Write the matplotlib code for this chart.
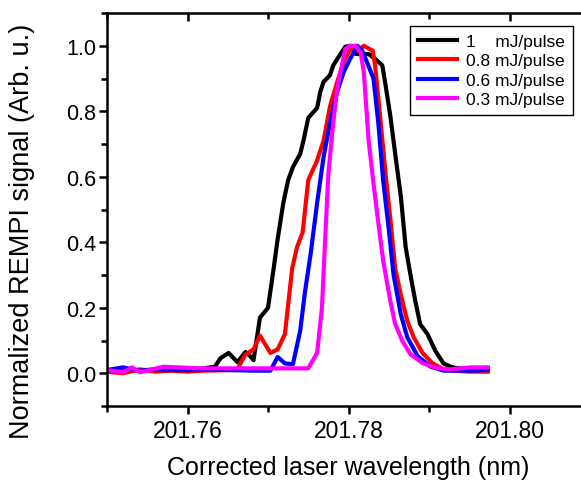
import matplotlib
matplotlib.use("Agg")
import matplotlib.pyplot as plt
from matplotlib.ticker import MultipleLocator, FormatStrFormatter

plt.rcParams['font.family'] = ['Liberation Sans', 'DejaVu Sans']

# wavelength (nm) and normalized signal
wl_1mj = [201.7500, 201.7520, 201.7540, 201.7560, 201.7580, 201.7600, 201.7620, 201.7634,
          201.7641, 201.7651, 201.7662, 201.7672, 201.7677, 201.7682, 201.7690, 201.7700,
          201.7707, 201.7712, 201.7719, 201.7725, 201.7731, 201.7740, 201.7744, 201.7750,
          201.7761, 201.7765, 201.7769, 201.7777, 201.7781, 201.7790, 201.7796, 201.7802,
          201.7809, 201.7817, 201.7825, 201.7833, 201.7842, 201.7846, 201.7852, 201.7858,
          201.7865, 201.7871, 201.7877, 201.7883, 201.7889, 201.7898, 201.7908, 201.7918,
          201.7927, 201.7935, 201.7950, 201.7973]
sig_1mj = [0.010, 0.005, 0.010, 0.010, 0.010, 0.010, 0.015, 0.020,
           0.046, 0.062, 0.034, 0.065, 0.055, 0.040, 0.170, 0.200,
           0.320, 0.410, 0.520, 0.590, 0.630, 0.670, 0.710, 0.780,
           0.810, 0.860, 0.890, 0.910, 0.940, 0.975, 0.997, 1.000,
           0.975, 0.975, 0.975, 0.960, 0.940, 0.880, 0.785, 0.670,
           0.540, 0.385, 0.300, 0.220, 0.150, 0.120, 0.068, 0.030,
           0.020, 0.015, 0.015, 0.015]

wl_08mj = [201.7500, 201.7520, 201.7540, 201.7560, 201.7580, 201.7600, 201.7620, 201.7662,
           201.7665, 201.7672, 201.7682, 201.7690, 201.7703, 201.7712, 201.7721, 201.7730,
           201.7736, 201.7743, 201.7750, 201.7761, 201.7769, 201.7777, 201.7786, 201.7794,
           201.7802, 201.7812, 201.7819, 201.7830, 201.7833, 201.7840, 201.7846, 201.7852,
           201.7858, 201.7865, 201.7873, 201.7881, 201.7892, 201.7904, 201.7918, 201.7930,
           201.7950, 201.7973]
sig_08mj = [0.005, 0.000, 0.012, 0.005, 0.008, 0.005, 0.008, 0.010,
            0.027, 0.057, 0.073, 0.115, 0.062, 0.073, 0.120, 0.320,
            0.385, 0.430, 0.590, 0.650, 0.710, 0.815, 0.890, 0.950,
            0.990, 0.985, 1.000, 0.985, 0.940, 0.765, 0.610, 0.470,
            0.320, 0.240, 0.160, 0.110, 0.062, 0.031, 0.012, 0.008,
            0.005, 0.005]

wl_06mj = [201.7500, 201.7520, 201.7540, 201.7560, 201.7580, 201.7600, 201.7620, 201.7650,
           201.7680, 201.7703, 201.7712, 201.7721, 201.7731, 201.7740, 201.7746, 201.7753,
           201.7761, 201.7769, 201.7777, 201.7786, 201.7794, 201.7802, 201.7811, 201.7817,
           201.7823, 201.7831, 201.7837, 201.7843, 201.7850, 201.7856, 201.7865, 201.7873,
           201.7886, 201.7902, 201.7918, 201.7950, 201.7973]
sig_06mj = [0.010, 0.018, 0.008, 0.012, 0.010, 0.010, 0.012, 0.010,
            0.008, 0.008, 0.050, 0.030, 0.028, 0.130, 0.250, 0.365,
            0.520, 0.660, 0.765, 0.860, 0.920, 0.960, 1.000, 0.985,
            0.950, 0.900, 0.765, 0.590, 0.440, 0.300, 0.180, 0.110,
            0.052, 0.020, 0.008, 0.008, 0.010]

wl_03mj = [201.7500, 201.7520, 201.7531, 201.7541, 201.7570, 201.7616, 201.7678, 201.7750,
           201.7761, 201.7767, 201.7771, 201.7775, 201.7781, 201.7786, 201.7790, 201.7796,
           201.7802, 201.7809, 201.7815, 201.7819, 201.7825, 201.7831, 201.7837, 201.7843,
           201.7852, 201.7858, 201.7867, 201.7877, 201.7892, 201.7911, 201.7927, 201.7952,
           201.7973]
sig_03mj = [0.010, 0.003, 0.018, 0.003, 0.020, 0.015, 0.015, 0.015,
            0.062, 0.200, 0.410, 0.610, 0.765, 0.870, 0.920, 0.990,
            1.000, 1.000, 0.980, 0.920, 0.710, 0.580, 0.460, 0.345,
            0.220, 0.150, 0.098, 0.058, 0.031, 0.015, 0.012, 0.018,
            0.018]

labels = ['1    mJ/pulse', '0.8 mJ/pulse', '0.6 mJ/pulse', '0.3 mJ/pulse']
colors = ['black', 'red', 'blue', 'magenta']

fig = plt.figure(figsize=(5.81, 4.81), dpi=100)
ax = fig.add_axes([0.1842, 0.1538, 0.8313, 0.817])

series = [(wl_1mj, sig_1mj), (wl_08mj, sig_08mj), (wl_06mj, sig_06mj), (wl_03mj, sig_03mj)]
for (x, y), lab, c in zip(series, labels, colors):
    ax.plot(x, y, color=c, lw=3, label=lab)

ax.set_xlim(201.75, 201.81)
ax.set_ylim(-0.1, 1.1)
ax.xaxis.set_major_locator(MultipleLocator(0.02))
ax.xaxis.set_minor_locator(MultipleLocator(0.01))
ax.yaxis.set_major_locator(MultipleLocator(0.2))
ax.yaxis.set_minor_locator(MultipleLocator(0.1))
ax.xaxis.set_major_formatter(FormatStrFormatter('%.2f'))
ax.yaxis.set_major_formatter(FormatStrFormatter('%.1f'))

for s in ax.spines.values():
    s.set_linewidth(1.8)
ax.tick_params(axis='x', which='major', length=6, width=1.8, labelsize=16.5, pad=3)
ax.tick_params(axis='y', which='major', length=6, width=1.8, labelsize=15.5, pad=2)
ax.tick_params(which='minor', length=4, width=1.8)

# mirrored ticks pointing inward on top and right
top = ax.secondary_xaxis('top')
top.xaxis.set_major_locator(MultipleLocator(0.02))
top.xaxis.set_minor_locator(MultipleLocator(0.01))
top.tick_params(which='both', direction='in', labeltop=False, width=1.8)
top.tick_params(which='major', length=6)
top.tick_params(which='minor', length=4)
right = ax.secondary_yaxis('right')
right.yaxis.set_major_locator(MultipleLocator(0.2))
right.tick_params(direction='in', labelright=False, width=1.8, length=6)

ax.set_xlabel('Corrected laser wavelength (nm)', fontsize=18, labelpad=10)
ax.set_ylabel('Normalized REMPI signal (Arb. u.)', fontsize=19.5)
ax.yaxis.set_label_coords(-0.15, 0.448)

leg = ax.legend(loc='upper right', bbox_to_anchor=(0.986, 0.944),
                bbox_transform=fig.transFigure, fontsize=12.5, frameon=True,
                fancybox=False, edgecolor='black', framealpha=1, handlelength=2.3,
                handletextpad=0.5, labelspacing=0.25, borderpad=0.45, borderaxespad=0)
leg.get_frame().set_linewidth(1.0)

fig.savefig('out.png', dpi=100)
